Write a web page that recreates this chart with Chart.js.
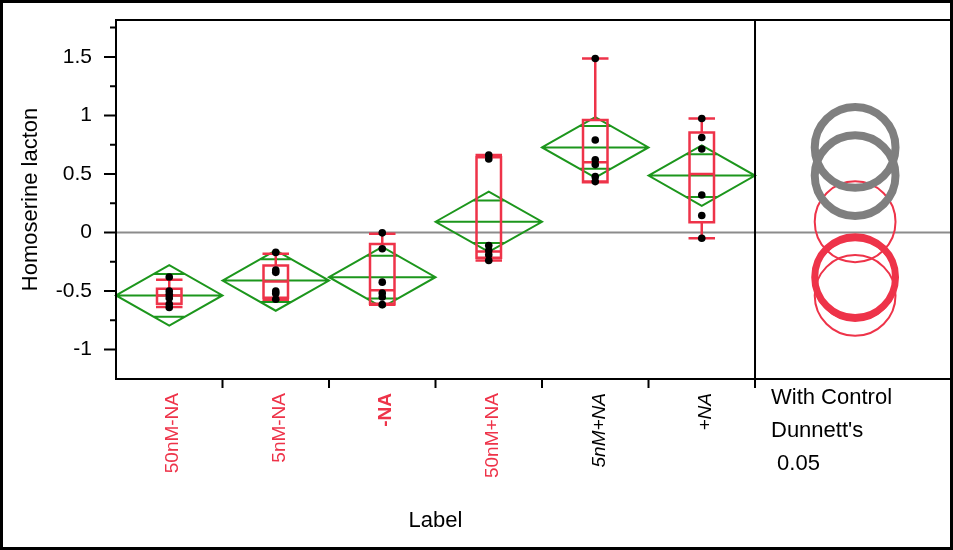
<!DOCTYPE html>
<html>
<head>
<meta charset="utf-8">
<script src="https://cdn.jsdelivr.net/npm/chart.js@4.4.1/dist/chart.umd.min.js"></script>
<style>
  html, body { margin: 0; padding: 0; background: #fff; }
  #wrap { width: 953px; height: 550px; }
</style>
</head>
<body>
<div id="wrap"><canvas id="oneway" width="953" height="550"></canvas></div>
<script>
// Groups on the x axis
const groups = ['50nM-NA', '5nM-NA', '-NA', '50nM+NA', '5nM+NA', '+NA'];
const groupColors = ['#ee3349', '#ee3349', '#ee3349', '#ee3349', '#000000', '#000000'];
const groupFonts = ['normal', 'normal', 'bold', 'normal', 'italic', 'italic'];

// Raw observations per group
const obs = [
    [-0.38, -0.50, -0.53, -0.56, -0.61, -0.64],
    [-0.17, -0.32, -0.34, -0.50, -0.52, -0.57],
    [-0.003, -0.139, -0.424, -0.517, -0.551, -0.616],
    [0.662, 0.628, -0.111, -0.153, -0.19, -0.239],
    [1.486, 0.79, 0.622, 0.58, 0.477, 0.435],
    [0.974, 0.812, 0.713, 0.321, 0.145, -0.049]
];

// Means diamonds: group mean and 95% CI half-width
const means = [-0.537, -0.41, -0.381, 0.092, 0.727, 0.486];
const ciHalf = [0.258, 0.258, 0.258, 0.258, 0.258, 0.258];

// Box plot summary
const q1 = [-0.608, -0.557, -0.608, -0.216, 0.429, 0.088];
const medians = [-0.537, -0.418, -0.494, -0.162, 0.60, 0.50];
const q3 = [-0.48, -0.281, -0.097, 0.642, 0.961, 0.855];
const whiskLo = [-0.637, -0.574, -0.616, -0.239, 0.435, -0.049];
const whiskHi = [-0.403, -0.182, -0.011, 0.662, 1.486, 0.974];

// Dunnett's comparison circles (control = -NA)
const circleRadius = 0.345;
const circleKind = ['thin', 'thin', 'control', 'thin', 'diff', 'diff'];

// Y axis ticks
const yMajor = [1.5, 1, 0.5, 0, -0.5, -1];
const yMinor = [1.75, 1.25, 0.75, 0.25, -0.25, -0.75];

const RED = '#ee3349';
const GREEN = '#1c961c';
const GRAY = '#7f7f7f';
const FONT = '"Liberation Sans", Arial, sans-serif';

const circleX = 6.44;   // centre of the comparison circles panel
const panelEdge = 5.5;  // divider between groups and circles

const pointData = [];
obs.forEach((vals, i) => vals.forEach(v => pointData.push({ x: i, y: v })));

const onewayPlugin = {
    id: 'oneway',
    beforeDatasetsDraw(chart) {
        const { ctx, chartArea: a, scales: { x, y } } = chart;
        ctx.save();

        // zero reference line
        ctx.strokeStyle = '#8c8c8c';
        ctx.lineWidth = 2;
        ctx.beginPath();
        ctx.moveTo(a.left, y.getPixelForValue(0));
        ctx.lineTo(a.right, y.getPixelForValue(0));
        ctx.stroke();

        // comparison circles
        const cx = x.getPixelForValue(circleX);
        means.forEach((m, i) => {
            const cy = y.getPixelForValue(m);
            const r = Math.abs(y.getPixelForValue(m + circleRadius) - cy);
            const kind = circleKind[i];
            ctx.strokeStyle = kind === 'diff' ? GRAY : RED;
            ctx.lineWidth = kind === 'diff' ? 8 : (kind === 'control' ? 7 : 2);
            ctx.beginPath();
            ctx.arc(cx, cy, r, 0, Math.PI * 2);
            ctx.stroke();
        });

        // means diamonds
        ctx.strokeStyle = GREEN;
        ctx.lineWidth = 2;
        means.forEach((m, i) => {
            const xl = x.getPixelForValue(i - 0.5);
            const xr = x.getPixelForValue(i + 0.5);
            const xc = x.getPixelForValue(i);
            const yc = y.getPixelForValue(m);
            const yt = y.getPixelForValue(m + ciHalf[i]);
            const yb = y.getPixelForValue(m - ciHalf[i]);
            ctx.beginPath();
            ctx.moveTo(xl, yc);
            ctx.lineTo(xc, yt);
            ctx.lineTo(xr, yc);
            ctx.lineTo(xc, yb);
            ctx.closePath();
            ctx.moveTo(xl, yc);
            ctx.lineTo(xr, yc);
            // overlap marks
            const k = Math.SQRT1_2;
            [m + ciHalf[i] * k, m - ciHalf[i] * k].forEach(v => {
                const half = 0.5 * (1 - k);
                ctx.moveTo(x.getPixelForValue(i - half), y.getPixelForValue(v));
                ctx.lineTo(x.getPixelForValue(i + half), y.getPixelForValue(v));
            });
            ctx.stroke();
        });

        // box plots
        ctx.strokeStyle = RED;
        ctx.lineWidth = 2.5;
        groups.forEach((g, i) => {
            const bl = x.getPixelForValue(i - 0.115);
            const br = x.getPixelForValue(i + 0.115);
            const xc = x.getPixelForValue(i);
            const yq1 = y.getPixelForValue(q1[i]);
            const yq3 = y.getPixelForValue(q3[i]);
            const ym = y.getPixelForValue(medians[i]);
            ctx.beginPath();
            ctx.rect(bl, yq3, br - bl, yq1 - yq3);
            ctx.moveTo(bl, ym);
            ctx.lineTo(br, ym);
            ctx.moveTo(xc, yq3);
            ctx.lineTo(xc, y.getPixelForValue(whiskHi[i]));
            ctx.moveTo(xc, yq1);
            ctx.lineTo(xc, y.getPixelForValue(whiskLo[i]));
            [whiskHi[i], whiskLo[i]].forEach(v => {
                ctx.moveTo(bl - 1, y.getPixelForValue(v));
                ctx.lineTo(br + 1, y.getPixelForValue(v));
            });
            ctx.stroke();
        });
        ctx.restore();
    },
    afterDraw(chart) {
        const { ctx, chartArea: a, scales: { x, y } } = chart;
        ctx.save();
        ctx.strokeStyle = '#000';
        ctx.lineWidth = 2;

        // plot frame and divider
        ctx.beginPath();
        ctx.moveTo(a.right, a.top);
        ctx.lineTo(a.left, a.top);
        ctx.lineTo(a.left, a.bottom);
        ctx.lineTo(a.right, a.bottom);
        const px = x.getPixelForValue(panelEdge);
        ctx.moveTo(px, a.top);
        ctx.lineTo(px, a.bottom);

        // y ticks
        yMajor.forEach(v => {
            const py = y.getPixelForValue(v);
            ctx.moveTo(a.left - 12, py);
            ctx.lineTo(a.left, py);
        });
        yMinor.forEach(v => {
            const py = y.getPixelForValue(v);
            ctx.moveTo(a.left - 6, py);
            ctx.lineTo(a.left, py);
        });
        // x ticks at group boundaries
        groups.forEach((g, i) => {
            const tx = x.getPixelForValue(i + 0.5);
            ctx.moveTo(tx, a.bottom);
            ctx.lineTo(tx, a.bottom + 9);
        });
        ctx.stroke();

        // y tick labels
        ctx.fillStyle = '#000';
        ctx.font = '21px ' + FONT;
        ctx.textAlign = 'right';
        ctx.textBaseline = 'middle';
        yMajor.forEach(v => {
            ctx.fillText(String(v), a.left - 24, y.getPixelForValue(v));
        });

        // axis titles
        ctx.save();
        ctx.translate(31, (a.top + a.bottom) / 2);
        ctx.rotate(-Math.PI / 2);
        ctx.textAlign = 'center';
        ctx.font = '22px ' + FONT;
        ctx.fillText('Homoserine lacton', 0, 0);
        ctx.restore();

        ctx.textAlign = 'center';
        ctx.font = '22px ' + FONT;
        ctx.fillText('Label', (a.left + px) / 2, 521);

        // group labels, rotated
        groups.forEach((g, i) => {
            ctx.save();
            ctx.translate(x.getPixelForValue(i) + 4, a.bottom + 14);
            ctx.rotate(-Math.PI / 2);
            ctx.textAlign = 'right';
            ctx.textBaseline = 'middle';
            ctx.fillStyle = groupColors[i];
            const style = groupFonts[i];
            ctx.font = (style === 'bold' ? 'bold ' : style === 'italic' ? 'italic ' : '') + '19px ' + FONT;
            ctx.fillText(g, 0, 0);
            ctx.restore();
        });

        // circles legend
        ctx.fillStyle = '#000';
        ctx.font = '22px ' + FONT;
        ctx.textAlign = 'left';
        ctx.textBaseline = 'middle';
        ctx.fillText('With Control', 771, 398);
        ctx.fillText("Dunnett's", 771, 431);
        ctx.fillText(' 0.05', 771, 464);

        // outer border
        ctx.lineWidth = 3;
        ctx.strokeRect(1.5, 1.5, chart.width - 3, chart.height - 3);
        ctx.restore();
    }
};

new Chart(document.getElementById('oneway'), {
    type: 'scatter',
    data: {
        datasets: [{
            data: pointData,
            pointRadius: 3.8,
            pointHoverRadius: 3.8,
            pointBackgroundColor: '#000',
            pointBorderWidth: 0
        }]
    },
    options: {
        responsive: false,
        devicePixelRatio: 1,
        animation: false,
        layout: { autoPadding: false, padding: { left: 116, top: 20, right: 0, bottom: 171 } },
        plugins: { legend: { display: false }, tooltip: { enabled: false } },
        scales: {
            x: { type: 'linear', min: -0.5, max: 7.359, display: false },
            y: { type: 'linear', min: -1.251, max: 1.815, display: false }
        }
    },
    plugins: [onewayPlugin]
});
</script>
</body>
</html>
